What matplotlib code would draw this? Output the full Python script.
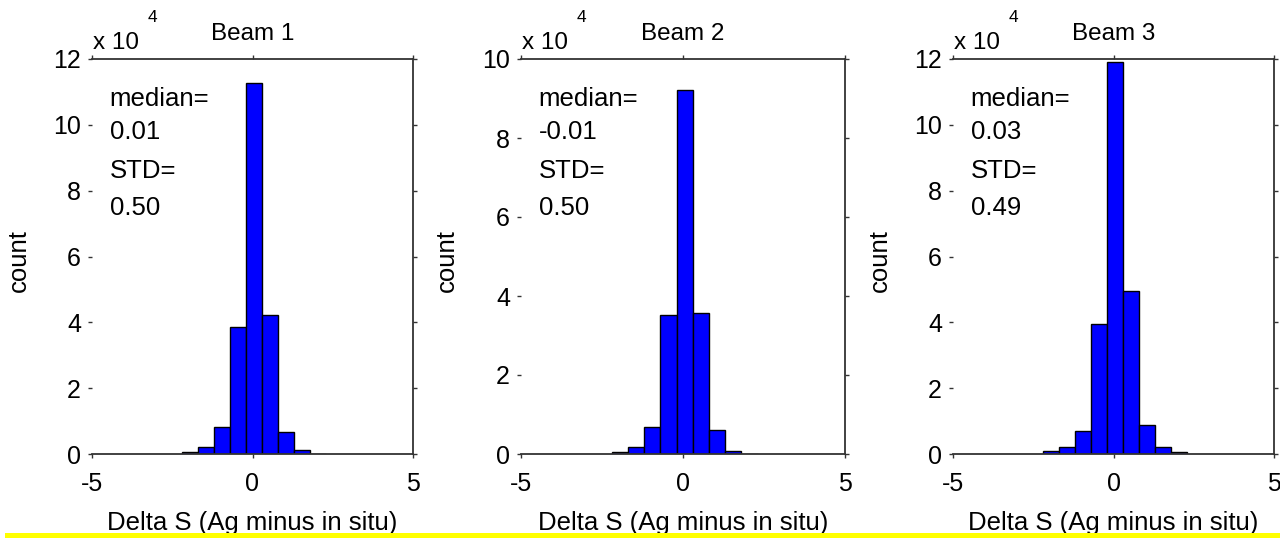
import matplotlib
matplotlib.use("Agg")
import matplotlib.pyplot as plt
import numpy as np
from matplotlib.patches import Rectangle

plt.rcParams['font.family'] = ['Liberation Sans', 'DejaVu Sans']

# Bin centres (Delta S) and counts (in units of 1e4)
bin_centers = [-1.95, -1.45, -0.95, -0.45, 0.05, 0.55, 1.05, 1.55, 2.05]
bin_width = 0.5
beam1_counts = [0.05, 0.22, 0.81, 3.86, 11.26, 4.22, 0.67, 0.13, 0.0]
beam2_counts = [0.04, 0.18, 0.68, 3.53, 9.22, 3.56, 0.60, 0.07, 0.0]
beam3_counts = [0.08, 0.20, 0.71, 3.95, 11.90, 4.94, 0.87, 0.20, 0.07]

titles = ["Beam 1", "Beam 2", "Beam 3"]
medians = ["0.01", "-0.01", "0.03"]
stds = ["0.50", "0.50", "0.49"]
ymaxes = [12, 10, 12]
xticks = [-5, 0, 5]
xlabel = "Delta S (Ag minus in situ)"
ylabel = "count"

fig = plt.figure(figsize=(12.8, 5.38), dpi=100)
W, H = 1280, 538
panels = [(92, 413), (521, 845), (953, 1274)]
top_px, bot_px = 59, 454

all_counts = [beam1_counts, beam2_counts, beam3_counts]
for i, (l, r) in enumerate(panels):
    ax = fig.add_axes([l / W, (H - bot_px) / H, (r - l) / W, (bot_px - top_px) / H])
    ax.bar(bin_centers, all_counts[i], width=bin_width, color='#0000FF',
           edgecolor='black', linewidth=1.0, zorder=2)
    ax.set_xlim(-5, 5)
    ax.set_ylim(0, ymaxes[i])
    ax.set_xticks(xticks)
    ax.set_xticklabels([str(t) for t in xticks])
    ax.set_yticks(np.arange(0, ymaxes[i] + 1, 2))
    ax.spines['left'].set_visible(False)
    for s in ['top', 'right', 'bottom']:
        ax.spines[s].set_linewidth(1.3)
        ax.spines[s].set_color('#333333')
    ax.tick_params(axis='both', direction='out', length=3, width=1.0,
                   color='#333333', labelsize=18, top=True, right=True,
                   labeltop=False, labelright=False)
    ax.tick_params(axis='x', pad=10)
    ax.tick_params(axis='y', pad=5)
    ax.set_title(titles[i], fontsize=17.5, pad=14)
    ax.text(0.004, 1.04, "x 10", transform=ax.transAxes, fontsize=17.5,
            ha='left', va='center')
    ax.text(0.172, 1.106, "4", transform=ax.transAxes, fontsize=12.5,
            ha='left', va='center')
    tx = 0.055
    fs = 18.5
    ax.text(tx, 0.90, "median=", transform=ax.transAxes, fontsize=fs, va='center')
    ax.text(tx, 0.815, medians[i], transform=ax.transAxes, fontsize=fs, va='center')
    ax.text(tx, 0.717, "STD=", transform=ax.transAxes, fontsize=fs, va='center')
    ax.text(tx, 0.622, stds[i], transform=ax.transAxes, fontsize=fs, va='center')
    ax.set_xlabel(xlabel, fontsize=18.5)
    ax.xaxis.set_label_coords(0.5, -0.174)
    ax.xaxis.label.set_va('center')
    ax.set_ylabel(ylabel, fontsize=18.5)
    ax.yaxis.set_label_coords(-0.228, 0.49)
    ax.yaxis.label.set_va('center')

# yellow strip at the bottom
fig.patches.append(Rectangle((5 / W, 0), 1 - 5 / W, 5.5 / H, transform=fig.transFigure,
                             facecolor='#FFFF00', edgecolor='none', zorder=10))

fig.savefig("out.png", dpi=100)
